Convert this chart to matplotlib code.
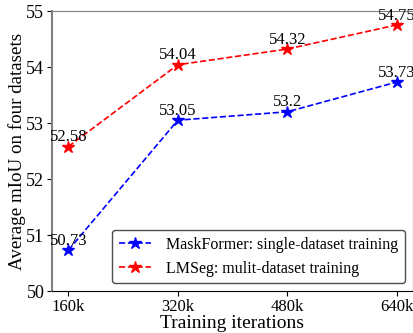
import matplotlib
matplotlib.use("Agg")
import matplotlib.pyplot as plt

iters = ["160k", "320k", "480k", "640k"]
maskformer = [50.73, 53.05, 53.2, 53.73]
lmseg = [52.58, 54.04, 54.32, 54.75]
maskformer_lbl = ["50.73", "53.05", "53.2", "53.73"]
lmseg_lbl = ["52.58", "54.04", "54.32", "54.75"]

plt.rcParams["font.family"] = ["Liberation Serif", "DejaVu Serif"]

fig = plt.figure(figsize=(4.14, 3.33), dpi=100)
ax = fig.add_axes([52 / 414, 1 - 291 / 333, 361 / 414, 280 / 333])

x = list(range(len(iters)))
ax.plot(x, maskformer, "b--*", ms=9, lw=1.2, label="MaskFormer: single-dataset training")
ax.plot(x, lmseg, "r--*", ms=9, lw=1.2, label="LMSeg: mulit-dataset training")

for xi, v, s in zip(x, maskformer, maskformer_lbl):
    ax.annotate(s, (xi, v), xytext=(0, 1), textcoords="offset points",
                ha="center", va="bottom", fontsize=12)
for xi, v, s in zip(x, lmseg, lmseg_lbl):
    ax.annotate(s, (xi, v), xytext=(0, 1), textcoords="offset points",
                ha="center", va="bottom", fontsize=12)

ax.set_xlim(-0.15, 3.15)
ax.set_ylim(50, 55)
ax.set_xticks(x)
ax.set_xticklabels(iters)
ax.set_yticks([50, 51, 52, 53, 54, 55])
ax.tick_params(axis="x", labelsize=12, pad=2)
ax.tick_params(axis="y", labelsize=13, pad=2)
ax.set_xlabel("Training iterations", fontsize=14, labelpad=0)
ax.set_ylabel("Average mIoU on four datasets", fontsize=13.7)
ax.yaxis.set_label_coords(-0.073, 0.5)

for side in ["left", "top"]:
    ax.spines[side].set_color("gray")
ax.spines["left"].set_linewidth(1.5)

leg = ax.legend(loc="lower right", fontsize=11.5, handlelength=2.0,
                handletextpad=1.0, fancybox=True, framealpha=1, edgecolor="0.3")

fig.savefig("out.png", dpi=100)
